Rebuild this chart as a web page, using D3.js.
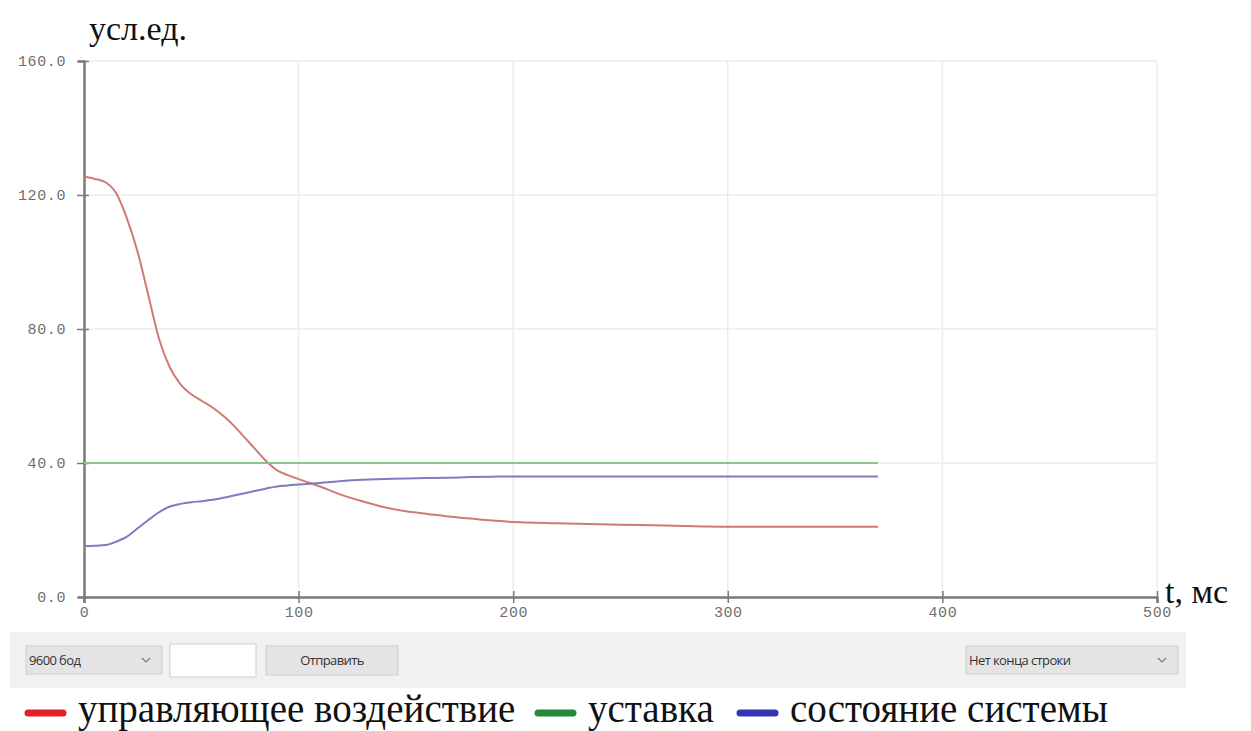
<!DOCTYPE html>
<html>
<head>
<meta charset="utf-8">
<script src="https://cdn.jsdelivr.net/npm/d3@7"></script>
<style>
  body { margin: 0; background: #fff; }
</style>
</head>
<body>
<div id="plot"></div>
<script>
// sample times, ms
const timeValues = [0, 5, 10, 15, 20, 25, 30, 35, 40, 45, 50, 55, 60, 65, 70, 75, 80, 85, 90, 95, 100, 110, 120, 130, 140, 150, 160, 170, 180, 190, 200, 220, 240, 260, 280, 300, 320, 340, 370];
const controlValues = [125.5, 124.8, 123.8, 120.5, 113, 103, 90, 77, 68.5, 63.5, 60.5, 58.5, 56.5, 54, 51, 47.5, 44, 40.5, 37.8, 36.4, 35.2, 33, 30.5, 28.5, 26.8, 25.6, 24.8, 24, 23.4, 22.8, 22.4, 22, 21.7, 21.5, 21.2, 21, 21, 21, 21];
const setpointValues = [40, 40, 40, 40, 40, 40, 40, 40, 40, 40, 40, 40, 40, 40, 40, 40, 40, 40, 40, 40, 40, 40, 40, 40, 40, 40, 40, 40, 40, 40, 40, 40, 40, 40, 40, 40, 40, 40, 40];
const stateValues = [15.2, 15.3, 15.5, 16.5, 18, 20.5, 23, 25.3, 27, 27.8, 28.3, 28.6, 29, 29.6, 30.3, 31, 31.7, 32.4, 33, 33.3, 33.6, 34, 34.6, 35, 35.2, 35.4, 35.5, 35.6, 35.8, 35.9, 36, 36, 36, 36, 36, 36, 36, 36, 36];

const seriesNames = ['управляющее воздействие', 'уставка', 'состояние системы'];
const seriesLineColors = ['#d07a72', '#8cc48c', '#7c7cc0'];
const seriesLegendColors = ['#e0202a', '#238a3a', '#3434b4'];

const xTicks = [0, 100, 200, 300, 400, 500];
const yTicks = [0, 40, 80, 120, 160];

const svgWidth = 1251;
const svgHeight = 731;
const serifFont = "'Liberation Serif'";
const monoFont = "'Liberation Mono'";
const uiFont = "'Open Sans'";

const svg = d3.select('#plot')
    .append('svg')
    .attr('width', svgWidth)
    .attr('height', svgHeight);

const xScale = d3.scaleLinear().domain([0, 500]).range([84, 1157]);
const yScale = d3.scaleLinear().domain([0, 160]).range([597, 61]);

// grid
svg.append('g')
    .selectAll('line')
    .data(xTicks.slice(1))
    .join('line')
    .attr('x1', d => xScale(d))
    .attr('x2', d => xScale(d))
    .attr('y1', yScale(160))
    .attr('y2', yScale(0))
    .attr('stroke', '#ececec')
    .attr('stroke-width', 1.5);

svg.append('g')
    .selectAll('line')
    .data(yTicks.slice(1))
    .join('line')
    .attr('x1', xScale(0))
    .attr('x2', xScale(500))
    .attr('y1', d => yScale(d))
    .attr('y2', d => yScale(d))
    .attr('stroke', '#ececec')
    .attr('stroke-width', 1.5);

// axes
const xAxis = d3.axisBottom(xScale)
    .tickValues(xTicks)
    .tickSize(6)
    .tickFormat(d3.format('d'));

const yAxis = d3.axisLeft(yScale)
    .tickValues(yTicks)
    .tickSize(6)
    .tickFormat(d3.format('.1f'));

const xAxisGroup = svg.append('g')
    .attr('transform', `translate(0, ${yScale(0)})`)
    .call(xAxis);

const yAxisGroup = svg.append('g')
    .attr('transform', `translate(${xScale(0)}, 0)`)
    .call(yAxis);

[xAxisGroup, yAxisGroup].forEach(g => {
    g.select('.domain').attr('stroke', '#7a7a7a').attr('stroke-width', 2.5);
    g.selectAll('.tick line').attr('stroke', '#7a7a7a').attr('stroke-width', 1.5);
    g.selectAll('.tick text')
        .attr('fill', '#6e6e6e')
        .attr('font-family', monoFont)
        .attr('font-size', 15)
        .attr('letter-spacing', 0.6);
});

// ticks cross the axis like in the serial plotter
xAxisGroup.selectAll('.tick line').attr('y1', -6).attr('y2', 6);
xAxisGroup.selectAll('.tick text').attr('y', 9);
yAxisGroup.selectAll('.tick line').attr('x1', -7).attr('x2', 5);
yAxisGroup.selectAll('.tick text').attr('x', -18);

// series
const seriesValues = [controlValues, setpointValues, stateValues];

const line = d3.line()
    .x((d, i) => xScale(timeValues[i]))
    .y(d => yScale(d))
    .curve(d3.curveMonotoneX);

svg.append('g')
    .selectAll('path')
    .data(seriesValues)
    .join('path')
    .attr('d', d => line(d))
    .attr('fill', 'none')
    .attr('stroke', (d, i) => seriesLineColors[i])
    .attr('stroke-width', 2);

// axis titles
svg.append('text')
    .attr('x', 89)
    .attr('y', 40)
    .attr('font-family', serifFont)
    .attr('font-size', 34)
    .attr('fill', '#111')
    .text('усл.ед.');

svg.append('text')
    .attr('x', 1165)
    .attr('y', 603)
    .attr('font-family', serifFont)
    .attr('font-size', 34)
    .attr('fill', '#111')
    .text('t, мс');

// bottom control bar
const panel = svg.append('g');

panel.append('rect')
    .attr('x', 10)
    .attr('y', 632)
    .attr('width', 1176)
    .attr('height', 56)
    .attr('fill', '#f1f1f1');

function dropdown(x, width, label) {
    panel.append('rect')
        .attr('x', x)
        .attr('y', 646)
        .attr('width', width)
        .attr('height', 28)
        .attr('fill', '#e4e4e4')
        .attr('stroke', '#d0d0d0');
    panel.append('text')
        .attr('x', x + 3)
        .attr('y', 665)
        .attr('font-family', uiFont)
        .attr('font-size', 13)
        .attr('letter-spacing', -0.6)
        .attr('fill', '#333')
        .text(label);
    panel.append('path')
        .attr('d', `M${x + width - 20},658 l4,4 l4,-4`)
        .attr('fill', 'none')
        .attr('stroke', '#777')
        .attr('stroke-width', 1.2);
}

dropdown(26, 136, '9600 бод');
dropdown(966, 212, 'Нет конца строки');

panel.append('rect')
    .attr('x', 170)
    .attr('y', 644)
    .attr('width', 86)
    .attr('height', 33)
    .attr('fill', '#fff')
    .attr('stroke', '#cfcfcf');

panel.append('rect')
    .attr('x', 266)
    .attr('y', 646)
    .attr('width', 132)
    .attr('height', 29)
    .attr('fill', '#e4e4e4')
    .attr('stroke', '#d0d0d0');

panel.append('text')
    .attr('x', 332)
    .attr('y', 665)
    .attr('text-anchor', 'middle')
    .attr('font-family', uiFont)
    .attr('font-size', 13)
    .attr('letter-spacing', -0.6)
    .attr('fill', '#333')
    .text('Отправить');

// legend
const legendX = [24, 534, 736];

const legend = svg.append('g')
    .selectAll('g')
    .data(seriesNames)
    .join('g')
    .attr('transform', (d, i) => `translate(${legendX[i]}, 713)`);

legend.append('line')
    .attr('x1', 4)
    .attr('x2', 39)
    .attr('y1', 0)
    .attr('y2', 0)
    .attr('stroke', (d, i) => seriesLegendColors[i])
    .attr('stroke-width', 7)
    .attr('stroke-linecap', 'round');

legend.append('text')
    .attr('x', 54)
    .attr('y', 9)
    .attr('font-family', serifFont)
    .attr('font-size', 39)
    .attr('fill', '#111')
    .text(d => d);
</script>
</body>
</html>
